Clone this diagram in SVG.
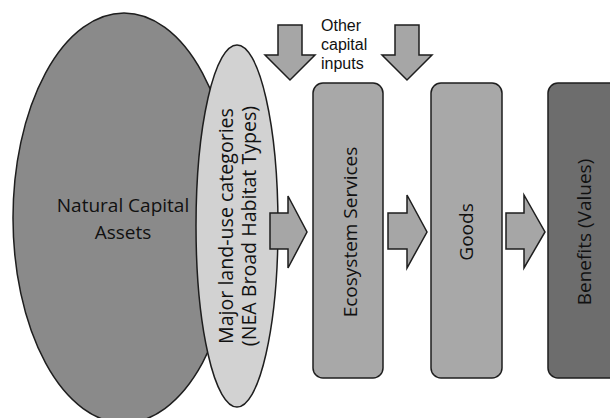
<svg xmlns="http://www.w3.org/2000/svg" width="610" height="418" viewBox="0 0 610 418">
  <style>
    .shape { stroke: #1e1e1e; stroke-width: 1.5; }
    .big { fill: #8a8a8a; }
    .small { fill: #d2d2d2; }
    .box { fill: #a8a8a8; }
    .dark { fill: #6d6d6d; }
    .arrow { fill: #a6a6a6; stroke: #1e1e1e; stroke-width: 1.5; stroke-linejoin: miter; }
    .lbl { font-family: "Open Sans", "Noto Sans", sans-serif; font-size: 19px; fill: #111; text-anchor: middle; }
    .lbl2 { font-size: 19.6px; }
    .note { font-family: "Liberation Sans", Arial, sans-serif; font-size: 16px; fill: #111; }
  </style>
  <rect width="610" height="418" fill="#ffffff"/>

  <g id="natural-capital-assets">
    <ellipse class="shape big" cx="124" cy="218" rx="111" ry="205"/>
    <text class="lbl" x="123" y="212">Natural Capital</text>
    <text class="lbl" x="123" y="239">Assets</text>
  </g>

  <g id="land-use-categories">
    <ellipse class="shape small" cx="237" cy="226" rx="41" ry="181"/>
    <text class="lbl lbl2" transform="translate(233,226) rotate(-90)">Major land-use categories</text>
    <text class="lbl lbl2" transform="translate(256,226) rotate(-90)">(NEA Broad Habitat Types)</text>
  </g>

  <g id="other-capital-inputs">
    <text class="note" x="321" y="31">Other</text>
    <text class="note" x="321" y="50">capital</text>
    <text class="note" x="321" y="69">inputs</text>
  </g>

  <g id="ecosystem-services">
    <rect class="shape box" x="313" y="83" width="70" height="295" rx="10"/>
    <text class="lbl" transform="translate(357,232) rotate(-90)">Ecosystem Services</text>
  </g>

  <g id="goods">
    <rect class="shape box" x="431" y="83" width="71" height="295" rx="10"/>
    <text class="lbl" transform="translate(473,232) rotate(-90)">Goods</text>
  </g>

  <g id="benefits">
    <rect class="shape dark" x="548" y="83" width="72" height="295" rx="10"/>
    <text class="lbl" transform="translate(591,232) rotate(-90)">Benefits (Values)</text>
  </g>

  <g id="connectors">
    <polygon class="arrow" points="278,25 302,25 302,55 315,55 290,80 265,55 278,55"/>
    <polygon class="arrow" points="395,25 419,25 419,55 432,55 407,80 382,55 395,55"/>
    <polygon class="arrow" points="270,213 288,213 288,196 307,232 288,268 288,249 270,249"/>
    <polygon class="arrow" points="388,213 407,213 407,195 427,232 407,268 407,249 388,249"/>
    <polygon class="arrow" points="506,213 524,213 524,195 545,232 524,268 524,249 506,249"/>
  </g>
</svg>
